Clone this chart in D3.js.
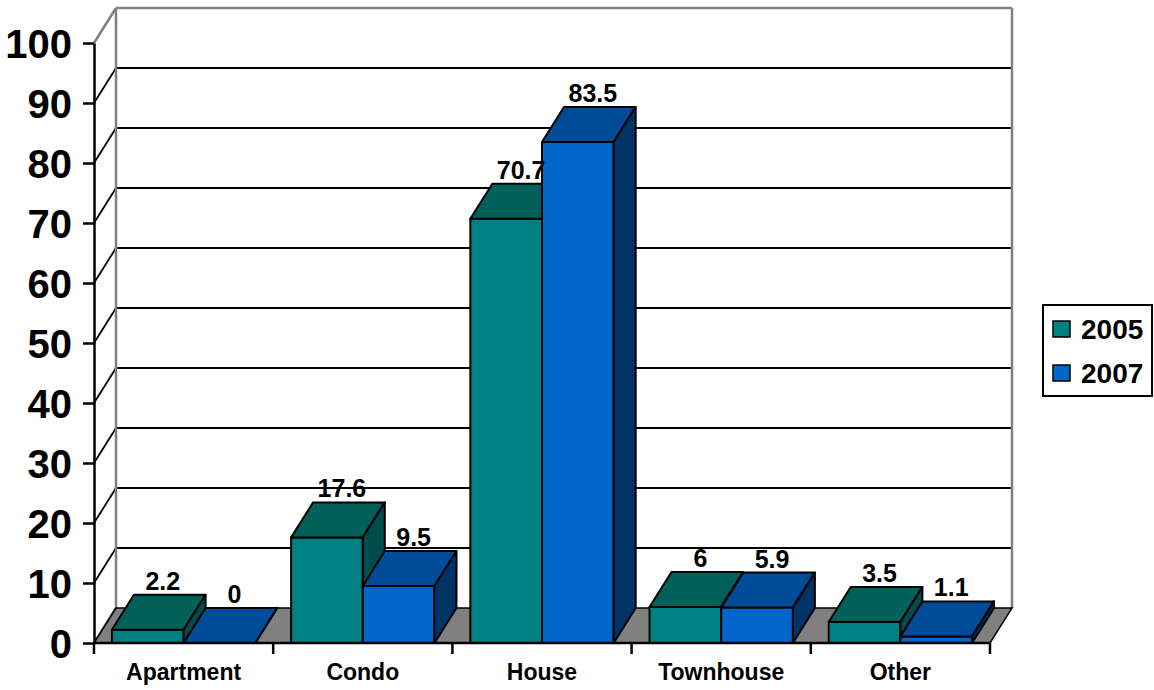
<!DOCTYPE html>
<html>
<head>
<meta charset="utf-8">
<script src="https://cdn.jsdelivr.net/npm/d3@7"></script>
<style>
    body { margin: 0; background: #fff; }
    text { font-family: "Liberation Sans", Arial, Helvetica, sans-serif; font-weight: bold; fill: #000; }
</style>
</head>
<body>
<svg id="chart" width="1154" height="690"></svg>
<script>
// Data.
var categories = ['Apartment', 'Condo', 'House', 'Townhouse', 'Other'];
var seriesNames = ['2005', '2007'];
var values2005 = [2.2, 17.6, 70.7, 6, 3.5];
var values2007 = [0, 9.5, 83.5, 5.9, 1.1];
var yTicks = [0, 10, 20, 30, 40, 50, 60, 70, 80, 90, 100];

var svg = d3.select('#chart'),
    plot = { left: 94, right: 990, top: 43, bottom: 643 },
    depth = { dx: 22, dy: 35 }, // 3D offset of the back wall
    colors = {
        '2005': { front: '#008080', top: '#00605a', side: '#004c4c' },
        '2007': { front: '#0066cc', top: '#004c99', side: '#003366' }
    },
    seriesValues = { '2005': values2005, '2007': values2007 };

var y = d3.scaleLinear().domain([0, 100]).range([plot.bottom, plot.top]);
var x = d3.scaleBand().domain(categories).range([plot.left, plot.right]).paddingInner(0).paddingOuter(0);
var xSub = d3.scaleBand().domain(seriesNames).range([0, x.bandwidth()]).paddingInner(0).paddingOuter(0.25);

var backLeft = plot.left + depth.dx,
    backRight = plot.right + depth.dx;

// Back wall grid lines and left wall diagonals.
var grid = svg.append('g').attr('id', 'grid');
yTicks.forEach(function (t) {
    var by = y(t) - depth.dy,
        edge = ( t === 0 || t === 100 );
    if ( t !== 0 ) {
        grid.append('line')
            .attr('x1', backLeft).attr('x2', backRight)
            .attr('y1', by).attr('y2', by)
            .attr('stroke', t === 100 ? '#808080' : '#000')
            .attr('stroke-width', t === 100 ? 2.5 : 1.8);
    }
    grid.append('line')
        .attr('x1', plot.left).attr('y1', y(t))
        .attr('x2', backLeft).attr('y2', by)
        .attr('stroke', edge ? '#808080' : '#000')
        .attr('stroke-width', edge ? 2.5 : 1.8);
});
grid.append('line')
    .attr('x1', backLeft).attr('x2', backLeft)
    .attr('y1', y(100) - depth.dy).attr('y2', y(0) - depth.dy)
    .attr('stroke', '#808080').attr('stroke-width', 2.5);
grid.append('line')
    .attr('x1', backRight).attr('x2', backRight)
    .attr('y1', y(100) - depth.dy).attr('y2', y(0) - depth.dy)
    .attr('stroke', '#808080').attr('stroke-width', 2.5);

// Floor.
svg.append('polygon')
    .attr('points', [
        [plot.left, y(0)], [plot.right, y(0)],
        [backRight, y(0) - depth.dy], [backLeft, y(0) - depth.dy]
    ].join(' '))
    .attr('fill', '#808080')
    .attr('stroke', '#000').attr('stroke-width', 1.5);

// 3D bars.
var bars = svg.append('g').attr('id', 'bars');
categories.forEach(function (cat, i) {
    seriesNames.forEach(function (s) {
        var v = seriesValues[s][i],
            x0 = x(cat) + xSub(s),
            x1 = x0 + xSub.bandwidth(),
            yt = y(v),
            yb = y(0),
            c = colors[s],
            g = bars.append('g');
        g.append('rect')
            .attr('x', x0).attr('y', yt)
            .attr('width', x1 - x0).attr('height', yb - yt)
            .attr('fill', c.front);
        g.append('polygon')
            .attr('points', [[x0, yt], [x1, yt], [x1 + depth.dx, yt - depth.dy], [x0 + depth.dx, yt - depth.dy]].join(' '))
            .attr('fill', c.top);
        g.append('polygon')
            .attr('points', [[x1, yt], [x1 + depth.dx, yt - depth.dy], [x1 + depth.dx, yb - depth.dy], [x1, yb]].join(' '))
            .attr('fill', c.side);
        g.selectAll('rect,polygon')
            .attr('stroke', '#000').attr('stroke-width', 2).attr('stroke-linejoin', 'round');
    });
});

// Y axis.
var yAxis = svg.append('g')
    .attr('transform', 'translate(' + plot.left + ',0)')
    .call(d3.axisLeft(y).tickValues(yTicks).tickSize(11).tickSizeOuter(0).tickPadding(11));
yAxis.select('.domain').attr('stroke', '#000').attr('stroke-width', 2.5);
yAxis.selectAll('.tick line').attr('stroke', '#000').attr('stroke-width', 2.5);
yAxis.selectAll('.tick text')
    .attr('font-size', 40).attr('font-family', null)
    .attr('dy', '0.36em');

// X axis: baseline, boundary ticks and labels.
var xAxis = svg.append('g').attr('id', 'xAxis');
xAxis.append('line')
    .attr('x1', plot.left).attr('x2', plot.right)
    .attr('y1', y(0)).attr('y2', y(0))
    .attr('stroke', '#000').attr('stroke-width', 2.5);
categories.concat([null]).forEach(function (cat) {
    var bx = cat === null ? plot.right : x(cat);
    xAxis.append('line')
        .attr('x1', bx).attr('x2', bx)
        .attr('y1', y(0)).attr('y2', y(0) + 11)
        .attr('stroke', '#000').attr('stroke-width', 2.5);
});
xAxis.selectAll('text.cat')
    .data(categories)
    .join('text')
    .attr('class', 'cat')
    .attr('x', d => x(d) + x.bandwidth() / 2)
    .attr('y', 680)
    .attr('text-anchor', 'middle')
    .attr('font-size', 23)
    .text(d => d);

// Value labels.
var labels = svg.append('g').attr('id', 'valueLabels');
categories.forEach(function (cat, i) {
    seriesNames.forEach(function (s) {
        var v = seriesValues[s][i];
        labels.append('text')
            .attr('x', x(cat) + xSub(s) + xSub.bandwidth() / 2 + 15)
            .attr('y', y(v) - depth.dy - 5)
            .attr('text-anchor', 'middle')
            .attr('font-size', 25)
            .text(String(v));
    });
});

// Legend.
var legend = svg.append('g').attr('id', 'legend');
legend.append('rect')
    .attr('x', 1043).attr('y', 305).attr('width', 109).attr('height', 91)
    .attr('fill', '#fff').attr('stroke', '#000').attr('stroke-width', 2);
seriesNames.forEach(function (s, i) {
    var ly = 321 + i * 44;
    legend.append('rect')
        .attr('x', 1053).attr('y', ly).attr('width', 17).attr('height', 16)
        .attr('fill', colors[s].front).attr('stroke', '#000').attr('stroke-width', 1.5);
    legend.append('text')
        .attr('x', 1081).attr('y', ly + 18)
        .attr('font-size', 28)
        .text(s);
});
</script>
</body>
</html>
